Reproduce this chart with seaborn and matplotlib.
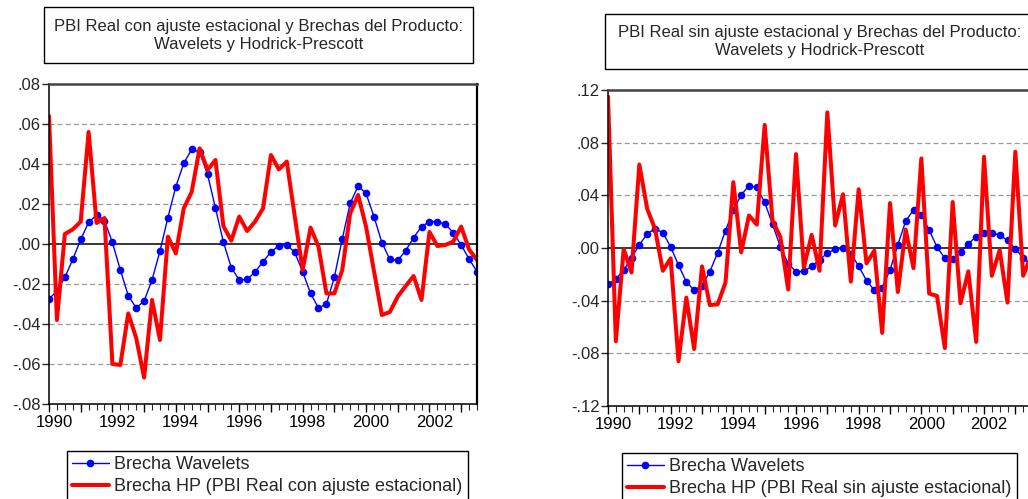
import numpy as np
import pandas as pd
import matplotlib
matplotlib.use("Agg")
import matplotlib.pyplot as plt
import matplotlib.transforms as mtransforms
import seaborn as sns
from matplotlib.patches import Rectangle
from matplotlib.ticker import FuncFormatter, FixedLocator

# ---------------------------------------------------------
# data (quarterly 1990Q1 - 2003Q3)
# ---------------------------------------------------------
quarters = pd.period_range("1990Q1", "2003Q3", freq="Q").astype(str)

brecha_wavelets = [
    -0.0275, -0.0235, -0.0167, -0.0077, 0.0023, 0.0108, 0.0145, 0.0117,
    0.0008, -0.0130, -0.0258, -0.0320, -0.0285, -0.0180, -0.0035, 0.0132,
    0.0287, 0.0403, 0.0473, 0.0460, 0.0348, 0.0180, 0.0010, -0.0118,
    -0.0180, -0.0177, -0.0140, -0.0088, -0.0040, -0.0008, -0.0003, -0.0042,
    -0.0138, -0.0247, -0.0320, -0.0300, -0.0167, 0.0025, 0.0203, 0.0290,
    0.0253, 0.0137, 0.0007, -0.0077, -0.0082, -0.0033, 0.0032, 0.0087,
    0.0112, 0.0112, 0.0100, 0.0057, -0.0005, -0.0075, -0.0138,
]

brecha_hp_con = [
    0.0640, -0.0380, 0.0050, 0.0073, 0.0112, 0.0560, 0.0105, 0.0130,
    -0.0600, -0.0605, -0.0347, -0.0470, -0.0668, -0.0280, -0.0480, 0.0037,
    -0.0047, 0.0178, 0.0260, 0.0478, 0.0370, 0.0420, 0.0090, 0.0017,
    0.0137, 0.0065, 0.0112, 0.0178, 0.0445, 0.0373, 0.0412, 0.0140,
    -0.0130, 0.0082, -0.0013, -0.0247, -0.0247, -0.0130, 0.0153, 0.0245,
    0.0087, -0.0135, -0.0355, -0.0340, -0.0263, -0.0210, -0.0160, -0.0280,
    0.0060, -0.0010, -0.0005, 0.0012, 0.0087, -0.0027, -0.0080,
]

brecha_hp_sin = [
    0.1150, -0.0708, -0.0008, -0.0186, 0.0634, 0.0298, 0.0145, -0.0173,
    -0.0079, -0.0860, -0.0377, -0.0767, -0.0140, -0.0433, -0.0428, -0.0262,
    0.0500, -0.0033, 0.0247, 0.0178, 0.0935, 0.0208, 0.0085, -0.0315,
    0.0713, -0.0148, 0.0100, -0.0173, 0.1030, 0.0171, 0.0408, -0.0255,
    0.0446, -0.0117, -0.0020, -0.0645, 0.0341, -0.0334, 0.0140, -0.0153,
    0.0680, -0.0346, -0.0364, -0.0760, 0.0349, -0.0420, -0.0178, -0.0713,
    0.0693, -0.0211, -0.0015, -0.0415, 0.0731, -0.0211, -0.0060,
]

years = list(range(1990, 2004))

df = pd.DataFrame({
    "t": np.arange(len(quarters)),
    "quarter": quarters,
    "wavelets": brecha_wavelets,
    "hp_con": brecha_hp_con,
    "hp_sin": brecha_hp_sin,
})

sns.set_style("white")
plt.rcParams["font.family"] = ["Liberation Sans", "DejaVu Sans"]

W, H = 1028, 499
fig = plt.figure(figsize=(W / 100, H / 100), dpi=100)


def px_box(x0, y0, x1, y1):
    # pixel box (top-left origin) -> figure fraction [left, bottom, width, height]
    return [x0 / W, 1 - y1 / H, (x1 - x0) / W, (y1 - y0) / H]


def fmt_y(v, pos):
    s = f"{v:.2f}"
    s = s.replace("-0.", "-.").replace("0.", ".")
    return s


def draw_panel(ax_box, hp_col, hp_label, ylim, yticks, title, title_box, legend_xy):
    ax = fig.add_axes(px_box(*ax_box))

    sns.lineplot(data=df, x="t", y="wavelets", ax=ax, color="blue", lw=1.0,
                 marker="o", markersize=5.5, markeredgewidth=0,
                 label="Brecha Wavelets", legend=False)
    sns.lineplot(data=df, x="t", y=hp_col, ax=ax, color="red", lw=2.9,
                 label=hp_label, legend=False)

    ax.set_xlim(0, len(quarters) - 1)
    ax.set_ylim(*ylim)
    ax.set_xlabel("")
    ax.set_ylabel("")

    # horizontal grid: dashed, zero line solid
    for y in yticks:
        if y == ylim[0] or y == ylim[1]:
            continue
        if abs(y) < 1e-12:
            ax.axhline(0, color="black", lw=1.1, zorder=1)
        else:
            ax.axhline(y, color="#999999", lw=0.9, ls=(0, (4, 2.5)), zorder=1)

    ax.yaxis.set_major_locator(FixedLocator(yticks))
    ax.yaxis.set_major_formatter(FuncFormatter(fmt_y))

    major = [4 * i for i in range(len(years))]
    ax.xaxis.set_major_locator(FixedLocator(major))
    ax.set_xticklabels([str(y) if y % 2 == 0 else "" for y in years])
    ax.xaxis.set_minor_locator(FixedLocator(df["t"].tolist()))

    ax.tick_params(axis="x", which="major", direction="out", length=6, width=1,
                   labelsize=12, pad=2, bottom=True, colors="black")
    ax.tick_params(axis="x", which="minor", direction="out", length=4, width=0.8,
                   bottom=True)
    ax.tick_params(axis="y", direction="out", length=5, width=1, labelsize=12,
                   pad=1, left=True)
    shift = mtransforms.ScaledTranslation(5 / 100, 0, fig.dpi_scale_trans)
    for lab in ax.get_xticklabels():
        lab.set_transform(lab.get_transform() + shift)

    for side in ["left", "bottom", "right"]:
        ax.spines[side].set_color("black")
        ax.spines[side].set_linewidth(1.1)
    ax.spines["top"].set_color("#444444")
    ax.spines["top"].set_linewidth(1.8)
    ax.spines["right"].set_linewidth(1.6)

    # title box
    x0, y0, x1, y1 = title_box
    fig.patches.append(Rectangle((x0 / W, 1 - y1 / H), (x1 - x0) / W, (y1 - y0) / H,
                                 transform=fig.transFigure, fill=False,
                                 edgecolor="black", lw=1.0))
    fig.text((x0 + x1) / 2 / W, 1 - (y0 + y1) / 2 / H, title, ha="center",
             va="center", fontsize=12, linespacing=1.25)

    handles, labels = ax.get_legend_handles_labels()
    fig.legend(handles, labels, loc="upper left",
               bbox_to_anchor=(legend_xy[0] / W, 1 - legend_xy[1] / H),
               bbox_transform=fig.transFigure, frameon=True, fancybox=False,
               edgecolor="black", framealpha=1, borderaxespad=0, fontsize=13,
               handlelength=2.0, handletextpad=0.3, labelspacing=0.28,
               borderpad=0.3)
    return ax


draw_panel((49, 84, 477, 404), "hp_con",
           "Brecha HP (PBI Real con ajuste estacional)",
           (-0.08, 0.08), np.round(np.arange(-0.08, 0.081, 0.02), 2),
           "PBI Real con ajuste estacional y Brechas del Producto:\nWavelets y Hodrick-Prescott",
           (44, 7, 473, 63), (67, 451))

draw_panel((608, 90, 1031, 406), "hp_sin",
           "Brecha HP (PBI Real sin ajuste estacional)",
           (-0.12, 0.12), np.round(np.arange(-0.12, 0.121, 0.04), 2),
           "PBI Real sin ajuste estacional y Brechas del Producto:\nWavelets y Hodrick-Prescott",
           (605, 14, 1035, 69), (622, 453))

fig.savefig("out.png", dpi=100)
